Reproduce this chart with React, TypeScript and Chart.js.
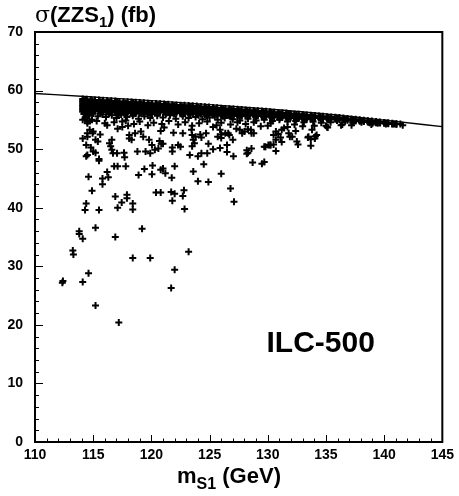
import React, { useEffect, useRef } from "react";
import { Chart, registerables } from "chart.js";

Chart.register(...registerables);

// Upper envelope line (kinematic maximum)
const lineX = [110, 115, 120, 125, 130, 135, 140, 145];
const lineY = [59.5, 58.9, 58.28, 57.6, 56.85, 56.0, 54.95, 53.85];

// Dense band just below the envelope: columns of x with their y values
const bandX = [
  114.1, 114.45, 114.8, 115.15, 115.5, 115.85, 116.2, 116.55, 116.9, 117.25,
  117.6, 117.95, 118.3, 118.65, 119.0, 119.35, 119.7, 120.05, 120.4, 120.75,
  121.1, 121.45, 121.8, 122.15, 122.5, 122.85, 123.2, 123.55, 123.9, 124.25,
  124.6, 124.95, 125.3, 125.65, 126.0, 126.35, 126.7, 127.05, 127.4, 127.75,
  128.1, 128.45, 128.8, 129.15, 129.5, 129.85, 130.2, 130.55, 130.9, 131.25,
  131.6, 131.95, 132.3, 132.65, 133.0, 133.35, 133.7, 134.05, 134.4, 134.75,
  135.1, 135.45, 135.8, 136.15, 136.5, 136.85, 137.2, 137.55, 137.9, 138.25,
  138.6, 138.95, 139.3, 139.65, 140.0, 140.35, 140.7, 141.05, 141.4,
];
const bandY = [
  [58.55, 58.1, 57.6, 57.1, 56.6], [58.5, 58.0, 57.5, 57.05, 56.5], [58.45, 57.95, 57.45, 57.0, 56.6],
  [58.4, 57.9, 57.4, 56.9, 56.45], [58.4, 57.9, 57.45, 56.95, 56.5], [58.35, 57.85, 57.35, 56.9, 56.4],
  [58.3, 57.8, 57.3, 56.8, 56.35], [58.25, 57.75, 57.25, 56.8, 56.3], [58.2, 57.7, 57.2, 56.75, 56.3],
  [58.15, 57.7, 57.2, 56.7, 56.25], [58.1, 57.65, 57.15, 56.7, 56.2], [58.1, 57.6, 57.1, 56.65, 56.2],
  [58.05, 57.55, 57.05, 56.6, 56.15], [58.0, 57.5, 57.0, 56.55, 56.1], [57.95, 57.45, 56.95, 56.5, 56.1],
  [57.9, 57.4, 56.95, 56.45, 56.05], [57.85, 57.4, 56.9, 56.45, 56.0], [57.8, 57.35, 56.85, 56.4, 56.0],
  [57.8, 57.3, 56.8, 56.35], [57.75, 57.25, 56.8, 56.3], [57.7, 57.2, 56.75, 56.3],
  [57.65, 57.2, 56.7, 56.25], [57.6, 57.15, 56.65, 56.2], [57.55, 57.1, 56.6, 56.15],
  [57.5, 57.05, 56.6, 56.15], [57.5, 57.0, 56.55, 56.1], [57.45, 56.95, 56.5, 56.05],
  [57.4, 56.9, 56.45, 56.0], [57.35, 56.85, 56.4, 56.0], [57.3, 56.8, 56.35, 55.95],
  [57.25, 56.75, 56.3, 55.9], [57.2, 56.7, 56.25, 55.9], [57.1, 56.65, 56.2, 55.85],
  [57.05, 56.6, 56.15, 55.8], [57.0, 56.55, 56.1, 55.75], [56.95, 56.5, 56.05, 55.75],
  [56.9, 56.45, 56.0, 55.7], [56.85, 56.4, 55.95, 55.65], [56.8, 56.35, 55.95, 55.65],
  [56.75, 56.3, 55.9, 55.6], [56.7, 56.25, 55.85], [56.65, 56.2, 55.8],
  [56.6, 56.15, 55.75], [56.55, 56.1, 55.7], [56.5, 56.05, 55.65],
  [56.45, 56.0, 55.6], [56.4, 55.95, 55.55], [56.3, 55.9, 55.5],
  [56.25, 55.85, 55.45], [56.2, 55.8, 55.4], [56.15, 55.75, 55.4],
  [56.1, 55.7, 55.35], [56.0, 55.6, 55.3], [55.95, 55.55, 55.25],
  [55.9, 55.5, 55.2], [55.85, 55.45, 55.15], [55.8, 55.4, 55.1],
  [55.75, 55.35], [55.65, 55.3], [55.6, 55.25],
  [55.55, 55.2], [55.5, 55.15], [55.45, 55.1],
  [55.4, 55.05], [55.3, 55.0], [55.25, 54.95],
  [55.15, 54.9], [55.1, 54.8], [55.0, 54.75],
  [54.95, 54.7], [54.85, 54.65], [54.8, 54.55],
  [54.7, 54.5], [54.65, 54.45], [54.55, 54.4],
  [54.5, 54.35], [54.4, 54.3], [54.35, 54.25], [54.3],
];
// Extra rows in the same columns, lying between the rows above
const bandY3 = [
  [58.3, 57.85, 57.35, 56.85], [58.25, 57.75, 57.3, 56.8], [58.2, 57.7, 57.2, 56.8],
  [58.15, 57.65, 57.15, 56.7], [58.15, 57.7, 57.2, 56.7], [58.1, 57.6, 57.1, 56.65],
  [58.05, 57.55, 57.05, 56.6], [58.0, 57.5, 57.0, 56.55], [57.95, 57.45, 57.0, 56.5],
  [57.9, 57.45, 56.95, 56.45], [57.85, 57.4, 56.9, 56.45], [57.85, 57.35, 56.9, 56.4],
  [57.8, 57.3, 56.8, 56.35], [57.75, 57.25, 56.8, 56.3], [57.7, 57.2, 56.75, 56.3],
  [57.65, 57.15, 56.7, 56.25], [57.6, 57.15, 56.65, 56.2], [57.55, 57.1, 56.6, 56.2],
  [57.55, 57.05, 56.55], [57.5, 57.0, 56.55], [57.45, 56.95, 56.5],
  [57.4, 56.95, 56.45], [57.35, 56.9, 56.4], [57.3, 56.85, 56.4],
  [57.25, 56.8, 56.35], [57.25, 56.75, 56.3], [57.2, 56.7, 56.25],
  [57.15, 56.65, 56.2], [57.1, 56.6, 56.2], [57.05, 56.55, 56.15],
  [57.0, 56.5, 56.1], [56.95, 56.45, 56.05], [56.85, 56.4, 56.0],
  [56.8, 56.35, 55.95], [56.75, 56.3, 55.9], [56.7, 56.25, 55.9],
  [56.65, 56.2, 55.85], [56.6, 56.15, 55.8], [56.55, 56.15, 55.8],
  [56.5, 56.1, 55.75], [56.45, 56.05], [56.4, 56.0],
  [56.35, 55.95], [56.3, 55.9], [56.25, 55.85],
  [56.2, 55.8], [56.15, 55.75], [56.1, 55.7],
  [56.05, 55.65], [56.0, 55.6], [55.95, 55.55],
  [55.9, 55.5], [55.8, 55.45], [55.75, 55.4],
  [55.7, 55.35], [55.65, 55.3], [55.6, 55.25],
  [55.55], [55.5], [55.45],
  [55.4], [55.35], [55.3],
  [55.2], [55.15], [55.1],
  [55.0], [54.95], [54.9],
  [54.8], [54.75], [54.7],
  [54.6], [54.55], [54.5],
  [54.4], [54.35], [54.3], [],
];

// In-between columns (offset rows) that close the gaps of the dense band
const bandX2 = [
  114.3, 114.95, 115.65, 116.35, 117.05, 117.75, 118.45, 119.15, 119.85, 120.55,
  121.25, 121.95, 122.65, 123.35, 124.05, 124.75, 125.45, 126.15, 126.85, 127.55,
  128.25, 128.95, 129.65, 130.35, 131.05, 131.75, 132.45, 133.15, 133.85, 134.55,
  135.25, 135.95, 136.65, 137.35, 138.05, 138.75, 139.45, 140.15, 140.85,
];
const bandY2 = [
  [58.3, 57.8, 57.3, 56.8, 56.35], [58.2, 57.7, 57.2, 56.75, 56.25], [58.1, 57.6, 57.15, 56.65, 56.2],
  [58.05, 57.55, 57.05, 56.55, 56.1], [57.95, 57.45, 56.95, 56.5, 56.05], [57.85, 57.4, 56.9, 56.45, 56.0],
  [57.8, 57.3, 56.8, 56.35, 55.95], [57.7, 57.2, 56.7, 56.25], [57.6, 57.15, 56.65, 56.2],
  [57.55, 57.05, 56.55, 56.1], [57.45, 56.95, 56.5, 56.05], [57.35, 56.9, 56.4, 56.0],
  [57.25, 56.8, 56.35, 55.95], [57.2, 56.7, 56.25, 55.9], [57.1, 56.6, 56.15, 55.8],
  [56.95, 56.5, 56.05, 55.75], [56.85, 56.4, 56.0, 55.65], [56.75, 56.3, 55.9, 55.6],
  [56.65, 56.2, 55.8, 55.5], [56.55, 56.1, 55.75], [56.45, 56.0, 55.65],
  [56.35, 55.9, 55.55], [56.25, 55.8, 55.45], [56.15, 55.75, 55.35],
  [56.0, 55.6, 55.3], [55.9, 55.5, 55.2], [55.8, 55.4, 55.1],
  [55.65, 55.3, 55.0], [55.55, 55.2], [55.45, 55.1],
  [55.35, 55.0], [55.25, 54.9], [55.1, 54.8],
  [54.95, 54.7], [54.85, 54.6], [54.7, 54.5],
  [54.55, 54.4], [54.45, 54.3], [54.3],
];

// Speckled region below the dense band
const speckle: [number, number][] = [
  [114.2, 56.0], [114.6, 55.7], [115.0, 56.1], [115.4, 55.6], [115.8, 55.9], [114.3, 55.2], [114.9, 55.0],
  [115.3, 54.8], [116.1, 55.5], [116.6, 55.8], [117.0, 55.3], [117.4, 55.9], [117.9, 55.5], [118.4, 55.7],
  [118.9, 55.2], [119.4, 55.6], [119.9, 55.3], [120.5, 55.7], [121.0, 55.4], [121.6, 55.8], [122.1, 55.2],
  [122.7, 55.6], [123.2, 55.3], [123.8, 55.5], [124.4, 55.1], [125.0, 55.4], [125.7, 55.0], [126.3, 55.3],
  [127.0, 55.1], [127.6, 54.9], [128.3, 55.2], [129.0, 54.9], [129.7, 55.0], [130.4, 54.8], [131.0, 55.0],
  [131.7, 54.7], [132.4, 54.8], [133.1, 54.6], [133.9, 54.7], [134.6, 54.5], [135.4, 54.6], [136.3, 54.1],
  [137.2, 54.1], [138.9, 54.2], [141.6, 54.1],
  [114.25, 56.1], [114.4, 55.5], [114.1, 55.0], [114.5, 54.7], [114.7, 53.3], [114.95, 52.7], [114.5, 52.1],
  [114.1, 51.8], [114.1, 56.4], [114.4, 56.7], [114.6, 56.0], [114.5, 54.4], [114.7, 54.8], [115.0, 53.0],
  [114.5, 52.7], [115.2, 51.6], [115.6, 52.5], [115.4, 51.3], [116.0, 54.4], [116.2, 54.1], [116.4, 51.0],
  [116.5, 50.5], [116.6, 51.6], [116.6, 49.9], [116.7, 49.3], [117.05, 49.3], [117.65, 49.4], [117.7, 48.6],
  [114.5, 49.0], [115.0, 49.6], [115.2, 49.4], [115.5, 48.3], [118.8, 49.6], [117.2, 55.8], [117.5, 54.7],
  [117.1, 53.5], [117.5, 53.8], [118.0, 54.0], [118.1, 52.4], [118.1, 51.8], [118.3, 51.6], [118.6, 52.7],
  [119.1, 53.0], [119.3, 52.1], [119.8, 51.6], [120.05, 50.7], [120.3, 49.9], [119.5, 49.6], [119.9, 49.3],
  [120.7, 51.4], [121.0, 50.9], [114.4, 50.7], [114.8, 50.3], [114.4, 48.8], [120.6, 50.1],
  [116.8, 54.6], [117.8, 54.9], [118.5, 54.3], [119.0, 54.7], [119.7, 54.1], [120.2, 54.5], [120.9, 54.3],
  [121.5, 54.8], [122.3, 54.2], [122.9, 54.6], [123.5, 54.0], [124.1, 54.4], [124.8, 54.7], [125.3, 53.8],
  [126.0, 54.5], [126.8, 54.2], [127.4, 54.6], [128.1, 54.3], [128.8, 54.6], [129.4, 53.9], [130.0, 54.0],
  [130.25, 54.4], [131.4, 53.6], [131.7, 53.8], [132.3, 54.2], [133.0, 53.9], [134.0, 54.0], [135.0, 54.0],
  [135.15, 53.7], [136.4, 54.2], [137.3, 54.5], [139.0, 54.4],
  [120.8, 53.1], [121.1, 53.7], [121.9, 52.8], [122.7, 52.7], [123.45, 53.3], [123.5, 52.4], [123.6, 51.6],
  [123.8, 52.1], [124.2, 52.5], [124.3, 52.0], [124.7, 52.7], [125.6, 54.1], [125.7, 52.1], [126.0, 51.9],
  [126.0, 52.5], [126.6, 52.7], [127.3, 53.5], [128.0, 53.0], [128.6, 50.1], [125.9, 53.3], [126.35, 52.7],
  [126.7, 52.4], [127.0, 51.6], [127.6, 53.3], [127.8, 52.7], [128.3, 53.4], [128.55, 53.3], [128.8, 52.7],
  [128.6, 52.7], [130.7, 53.0], [130.9, 52.6], [131.1, 52.0], [131.2, 51.2], [131.9, 52.1], [132.4, 53.1],
  [132.5, 51.3], [132.6, 50.8], [130.5, 50.8], [130.25, 50.7], [130.05, 50.7], [129.7, 50.4], [130.7, 49.7],
  [133.45, 52.0], [133.8, 53.3], [134.1, 52.2], [134.05, 51.8], [133.7, 50.6], [128.3, 49.4], [130.5, 52.4],
  [130.7, 51.6], [131.2, 53.3], [131.8, 52.7], [132.1, 52.1], [133.5, 52.1], [134.2, 52.4], [133.7, 51.7],
  [135.1, 53.8],
];

// Sparse outliers further down
const sparse: [number, number][] = [
  [115.5, 48.0], [116.8, 47.1], [117.1, 47.1], [117.8, 47.1], [114.6, 45.3], [116.2, 46.1], [115.8, 45.0],
  [116.3, 45.2], [115.8, 44.0], [118.9, 45.6], [119.4, 46.6], [120.1, 47.2], [120.05, 45.7], [120.8, 46.5],
  [121.2, 45.9], [121.75, 45.1], [122.0, 47.1], [123.6, 46.2], [124.5, 47.4], [124.0, 44.5], [114.9, 42.9],
  [114.4, 40.7], [114.3, 39.6], [115.5, 39.6], [116.9, 41.9], [117.9, 42.2], [117.9, 41.6], [117.45, 40.9],
  [117.1, 40.0], [118.4, 40.7], [118.4, 39.7], [120.4, 42.6], [120.8, 42.6], [121.7, 42.7], [122.0, 42.4],
  [121.8, 41.2], [122.7, 42.0], [122.8, 43.0], [122.85, 39.8], [115.2, 36.6], [113.8, 36.0], [113.8, 35.5],
  [114.1, 34.7], [116.9, 35.0], [119.2, 36.4], [113.25, 32.7], [113.3, 32.0], [118.4, 31.4], [119.9, 31.4],
  [123.2, 32.5], [122.0, 29.4], [114.6, 28.8], [112.35, 27.2], [112.4, 27.5], [114.1, 27.3], [121.7, 26.3],
  [115.2, 23.3], [117.2, 20.4],
  [120.85, 50.9], [121.8, 50.3], [121.8, 49.6], [122.3, 50.7], [122.5, 50.4], [123.5, 50.5], [123.7, 51.0],
  [124.9, 50.9], [126.5, 50.7], [126.5, 49.5], [123.3, 49.0], [124.0, 48.8], [124.3, 49.3], [124.8, 49.3],
  [125.3, 50.0], [125.9, 50.2], [127.05, 48.8], [128.2, 49.8], [128.2, 49.2], [128.7, 47.7], [129.5, 47.5],
  [129.7, 47.8], [129.8, 50.4], [130.2, 50.7], [126.0, 45.8], [124.9, 44.4], [126.8, 43.3], [127.1, 41.0],
  [121.0, 46.7],
];

const FONT = "'Liberation Sans', Arial, Helvetica, sans-serif";

export default function App() {
  const ref = useRef<HTMLCanvasElement>(null);

  useEffect(() => {
    if (!ref.current) return;
    const pts: { x: number; y: number }[] = [];
    bandX.forEach((x, i) => bandY[i].forEach((y) => pts.push({ x, y })));
    bandX.forEach((x, i) => (bandY3[i] || []).forEach((y) => pts.push({ x, y })));
    bandX2.forEach((x, i) => bandY2[i].forEach((y) => pts.push({ x, y })));
    speckle.forEach(([x, y]) => pts.push({ x, y }));
    sparse.forEach(([x, y]) => pts.push({ x, y }));
    const linePts = lineX.map((x, i) => ({ x, y: lineY[i] }));

    const decor = {
      id: "decor",
      afterDraw(chart: any) {
        const { ctx, chartArea: a, scales } = chart;
        const xs = scales.x;
        const ys = scales.y;
        ctx.save();
        ctx.strokeStyle = "#000";
        ctx.fillStyle = "#000";
        ctx.lineWidth = 2;
        ctx.strokeRect(a.left, a.top, a.right - a.left, a.bottom - a.top);
        ctx.lineWidth = 1;
        ctx.beginPath();
        for (let v = xs.min; v <= xs.max + 1e-6; v += 1) {
          const px = Math.round(xs.getPixelForValue(v)) + 0.5;
          const len = Math.abs(v % 5) < 1e-6 ? 7 : 3.5;
          ctx.moveTo(px, a.bottom);
          ctx.lineTo(px, a.bottom - len);
        }
        for (let v = ys.min; v <= ys.max + 1e-6; v += 2) {
          const py = Math.round(ys.getPixelForValue(v)) + 0.5;
          const len = Math.abs(v % 10) < 1e-6 ? 8 : 4;
          ctx.moveTo(a.left, py);
          ctx.lineTo(a.left + len, py);
        }
        ctx.stroke();

        // Title: σ(ZZS1) (fb)
        ctx.textAlign = "left";
        ctx.textBaseline = "alphabetic";
        let tx = a.left;
        const tb = 22;
        ctx.font = "22px 'DejaVu Serif', 'Liberation Serif', serif";
        ctx.fillText("σ", tx, tb);
        tx += ctx.measureText("σ").width;
        ctx.font = `bold 22px ${FONT}`;
        ctx.fillText("(ZZS", tx, tb);
        tx += ctx.measureText("(ZZS").width;
        ctx.font = `bold 15px ${FONT}`;
        ctx.fillText("1", tx, tb + 5);
        tx += ctx.measureText("1").width;
        ctx.font = `bold 22px ${FONT}`;
        ctx.fillText(") (fb)", tx, tb);

        // X label: m_S1 (GeV)
        ctx.font = `bold 22px ${FONT}`;
        const wm = ctx.measureText("m").width;
        const wr = ctx.measureText(" (GeV)").width;
        ctx.font = `bold 16px ${FONT}`;
        const ws = ctx.measureText("S1").width;
        let lx = 229 - (wm + ws + wr) / 2;
        const lb = 483;
        ctx.font = `bold 22px ${FONT}`;
        ctx.fillText("m", lx, lb);
        lx += wm;
        ctx.font = `bold 16px ${FONT}`;
        ctx.fillText("S1", lx, lb + 6);
        lx += ws;
        ctx.font = `bold 22px ${FONT}`;
        ctx.fillText(" (GeV)", lx, lb);

        // ILC-500 label
        ctx.font = `bold 30px ${FONT}`;
        ctx.textAlign = "center";
        ctx.textBaseline = "middle";
        ctx.fillText("ILC-500", xs.getPixelForValue(134.55), ys.getPixelForValue(16.7));
        ctx.restore();
      },
    };

    const chart = new Chart(ref.current, {
      type: "scatter",
      data: {
        datasets: [
          {
            type: "line",
            data: linePts,
            borderColor: "#000",
            borderWidth: 1.4,
            pointRadius: 0,
            cubicInterpolationMode: "monotone",
            fill: false,
            order: 0,
          } as any,
          {
            data: pts,
            pointStyle: "cross",
            pointRadius: 3.5,
            borderColor: "#000",
            backgroundColor: "#000",
            borderWidth: 2,
            pointBorderWidth: 2,
            order: 1,
          } as any,
        ],
      },
      options: {
        animation: false,
        responsive: false,
        maintainAspectRatio: false,
        layout: { padding: { left: 0, right: 12, top: 32, bottom: 0 } },
        plugins: { legend: { display: false }, tooltip: { enabled: false } },
        scales: {
          x: {
            type: "linear",
            min: 110,
            max: 145,
            grid: { display: false, drawTicks: false },
            border: { display: false },
            ticks: { stepSize: 5, padding: 5, color: "#000", font: { family: FONT, size: 14, weight: "bold" } },
            afterFit: (s: any) => {
              s.height = 54;
            },
          },
          y: {
            type: "linear",
            min: 0,
            max: 70,
            grid: { display: false, drawTicks: false },
            border: { display: false },
            ticks: { stepSize: 10, padding: 12, color: "#000", font: { family: FONT, size: 14, weight: "bold" } },
            afterFit: (s: any) => {
              s.width = 35;
            },
          },
        },
      } as any,
      plugins: [decor],
    });
    return () => chart.destroy();
  }, []);

  return (
    <div style={{ position: "absolute", left: 0, top: 0, width: 459, height: 496, background: "#fff" }}>
      <canvas ref={ref} width={459} height={496} style={{ display: "block" }} />
    </div>
  );
}
